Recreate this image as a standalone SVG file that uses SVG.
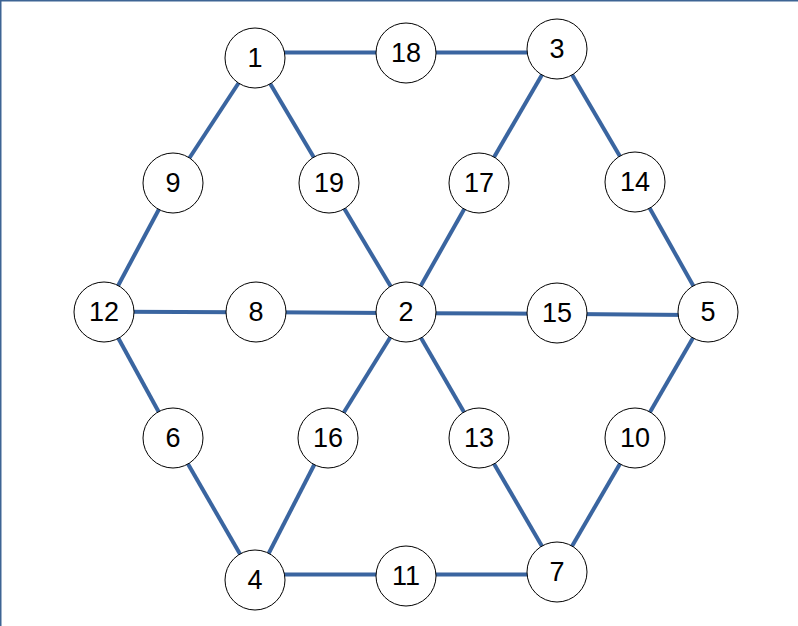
<svg xmlns="http://www.w3.org/2000/svg" width="798" height="626" viewBox="0 0 798 626">
<style>
.e{stroke:#3a65a0;stroke-width:4;fill:none}
.n circle{fill:#fff;stroke:#000;stroke-width:1}
.n text{font-family:"Liberation Sans",Arial,sans-serif;font-size:27px;fill:#000;text-anchor:middle;dominant-baseline:central}
</style>
<rect x="0" y="0" width="798" height="626" fill="#fff"/>
<path d="M0.75 626V0.75H798" stroke="#3d6494" stroke-width="1.5" fill="none"/>
<g id="connectors">
<line class="e" x1="280" y1="52.5" x2="385" y2="52.5"/>
<line class="e" x1="430" y1="52.5" x2="535" y2="52.5"/>
<line class="e" x1="255" y1="58" x2="173" y2="183"/>
<line class="e" x1="173" y1="183" x2="104" y2="312"/>
<line class="e" x1="255" y1="58" x2="329" y2="183"/>
<line class="e" x1="329" y1="183" x2="406" y2="312"/>
<line class="e" x1="557" y1="49" x2="479" y2="183"/>
<line class="e" x1="479" y1="183" x2="406" y2="312"/>
<line class="e" x1="557" y1="49" x2="635" y2="182"/>
<line class="e" x1="635" y1="182" x2="708" y2="312"/>
<line class="e" x1="120" y1="311.7" x2="240" y2="312.3"/>
<line class="e" x1="270" y1="312.3" x2="390" y2="313"/>
<line class="e" x1="420" y1="313.3" x2="540" y2="313.7"/>
<line class="e" x1="570" y1="314" x2="690" y2="315"/>
<line class="e" x1="104" y1="312" x2="173" y2="438"/>
<line class="e" x1="173" y1="438" x2="255" y2="580"/>
<line class="e" x1="406" y1="312" x2="328" y2="438"/>
<line class="e" x1="328" y1="438" x2="255" y2="580"/>
<line class="e" x1="406" y1="312" x2="479" y2="438"/>
<line class="e" x1="479" y1="438" x2="557" y2="572"/>
<line class="e" x1="708" y1="312" x2="635" y2="438"/>
<line class="e" x1="635" y1="438" x2="557" y2="572"/>
<line class="e" x1="275" y1="574.5" x2="385" y2="574.5"/>
<line class="e" x1="430" y1="574.5" x2="540" y2="574.5"/>
</g>
<g id="n1" class="n"><circle cx="255" cy="58" r="30"/><text x="255" y="58">1</text></g>
<g id="n18" class="n"><circle cx="406" cy="53" r="30"/><text x="406" y="53">18</text></g>
<g id="n3" class="n"><circle cx="557" cy="49" r="30"/><text x="557" y="49">3</text></g>
<g id="n9" class="n"><circle cx="173" cy="183" r="30"/><text x="173" y="183">9</text></g>
<g id="n19" class="n"><circle cx="329" cy="183" r="30"/><text x="329" y="183">19</text></g>
<g id="n17" class="n"><circle cx="479" cy="183" r="30"/><text x="479" y="183">17</text></g>
<g id="n14" class="n"><circle cx="635" cy="182" r="30"/><text x="635" y="182">14</text></g>
<g id="n12" class="n"><circle cx="104" cy="312" r="30"/><text x="104" y="312">12</text></g>
<g id="n8" class="n"><circle cx="256" cy="312" r="30"/><text x="256" y="312">8</text></g>
<g id="n2" class="n"><circle cx="406" cy="312" r="30"/><text x="406" y="312">2</text></g>
<g id="n15" class="n"><circle cx="557" cy="313" r="30"/><text x="557" y="313">15</text></g>
<g id="n5" class="n"><circle cx="708" cy="312" r="30"/><text x="708" y="312">5</text></g>
<g id="n6" class="n"><circle cx="173" cy="438" r="30"/><text x="173" y="438">6</text></g>
<g id="n16" class="n"><circle cx="328" cy="438" r="30"/><text x="328" y="438">16</text></g>
<g id="n13" class="n"><circle cx="479" cy="438" r="30"/><text x="479" y="438">13</text></g>
<g id="n10" class="n"><circle cx="635" cy="438" r="30"/><text x="635" y="438">10</text></g>
<g id="n4" class="n"><circle cx="255" cy="580" r="30"/><text x="255" y="580">4</text></g>
<g id="n11" class="n"><circle cx="406" cy="576" r="30"/><text x="406" y="576">11</text></g>
<g id="n7" class="n"><circle cx="557" cy="572" r="30"/><text x="557" y="572">7</text></g>
</svg>
